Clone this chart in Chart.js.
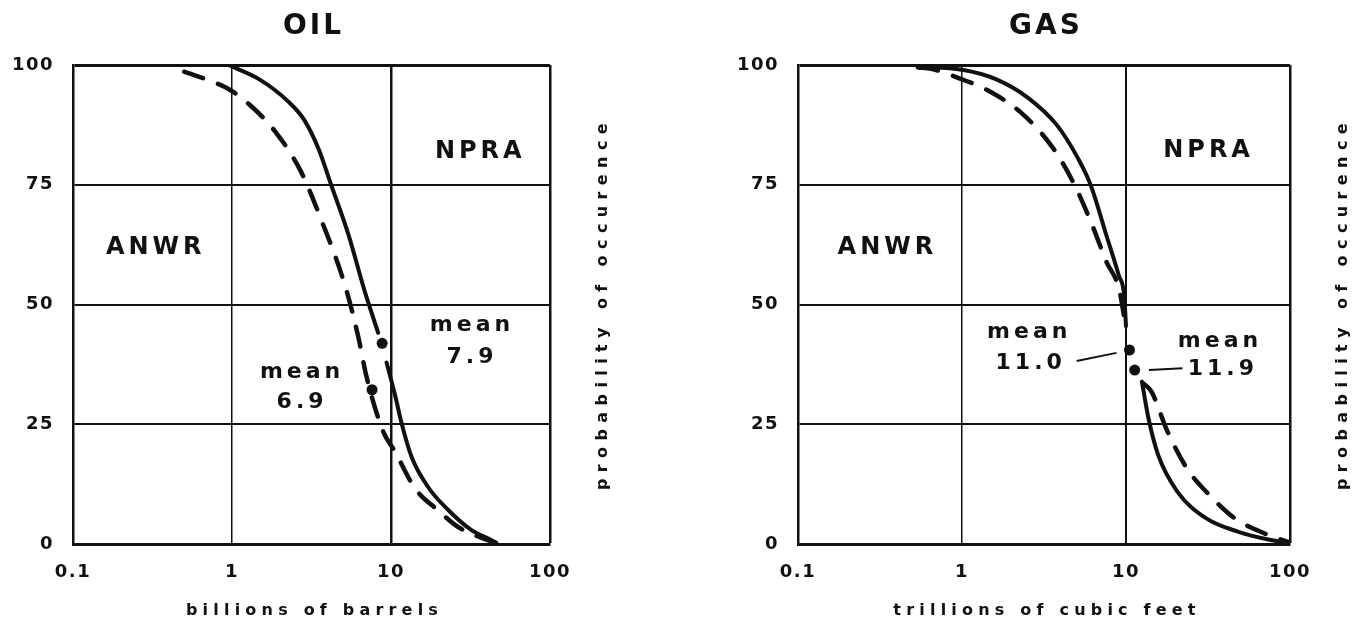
<!DOCTYPE html>
<html>
<head>
<meta charset="utf-8">
<title>OIL / GAS</title>
<script src="https://cdn.jsdelivr.net/npm/chart.js@4"></script>
<style>
  body { margin: 0; background: #fff; }
  #wrap { position: relative; width: 1353px; height: 623px; }
  canvas { position: absolute; top: 0; }
  #oil { left: 0; }
  #gas { left: 680px; }
</style>
</head>
<body>
<div id="wrap">
  <canvas id="oil" width="680" height="623"></canvas>
  <canvas id="gas" width="673" height="623"></canvas>
</div>
<script>
// tick labels
var xTicks = [0.1, 1, 10, 100];
var yTicks = [0, 25, 50, 75, 100];

// OIL (billions of barrels) - null marks the break in the line at the mean dot
var oilSolidX = [0.95, 1.47, 2.27, 2.85, 3.5, 4.2, 5.4, 6.8, 8.3, 8.8, 9.38, 10.6, 11.7, 13.5, 17.1, 22.9, 32.1, 42.9, 46];
var oilSolidY = [100, 97.1, 92.3, 88.5, 82.5, 75, 64.6, 53, 44.1, null, 37.9, 31.1, 25, 18.1, 11.9, 7.1, 2.9, 0.8, 0.2];
var oilDashedX = [0.5, 0.77, 0.95, 1.27, 1.87, 2.69, 3.67, 5.2, 6.24, 7.03, 8.95, 10.6, 14.1, 19.8, 26.3, 40.5, 46];
var oilDashedY = [98.6, 96.4, 95, 91.9, 86.1, 78, 67.4, 53.4, 43.1, 34.8, 23.4, 19.3, 11.7, 7, 3.6, 0.8, 0.2];
var oilMeanX = [8.8, 7.6];
var oilMeanY = [41.9, 32.2];

// GAS (trillions of cubic feet)
var gasSolidX = [0.535, 1, 1.62, 2.54, 3.78, 5.1, 6.08, 7.6, 9.05, 9.75, 10, 11, 12.5, 13.7, 15.7, 20.5, 30.7, 48, 75, 100];
var gasSolidY = [99.6, 99, 97, 93.1, 87.5, 80.5, 75, 64.4, 56, 51.8, 45.5, null, 33.9, 26.3, 18.6, 11, 5.4, 2.6, 0.9, 0.2];
var gasDashedX = [0.54, 0.65, 1, 1.4, 2.3, 3.6, 4.85, 6.22, 7.6, 9.06, 9.9, 11, 12.8, 14.3, 17.9, 23.5, 32.1, 45.9, 68.9, 100];
var gasDashedY = [99.5, 99.2, 97, 94.9, 90, 82.6, 75, 66.6, 58.9, 53.3, 46, null, 33.5, 31.8, 23.5, 15.8, 10.3, 5.4, 2.3, 0.3];
var gasMeanX = [10.5, 11.3];
var gasMeanY = [40.5, 36.3];
var gasLeaderX = [[5.0, 8.75], [13.8, 22.1]];
var gasLeaderY = [[38.2, 39.9], [36.3, 36.7]];

var INK = '#111';
var FACE = '"DejaVu Sans", "Liberation Sans", sans-serif';
Chart.defaults.font.family = FACE;

function pts(xs, ys) {
  return xs.map(function(x, i) { return { x: x, y: ys[i] }; });
}

// titles, axis names and in-plot notes are drawn here (letter spaced like the original)
var paperText = {
  id: 'paperText',
  beforeDraw: function(chart) {
    chart.ctx.letterSpacing = '1.5px';
  },
  afterDraw: function(chart) {
    var o = chart.options.plugins.paperText;
    var ctx = chart.ctx, area = chart.chartArea;
    var xs = chart.scales.x, ys = chart.scales.y;
    var cx = (area.left + area.right) / 2;

    ctx.save();
    ctx.fillStyle = INK;
    ctx.textAlign = 'center';
    ctx.textBaseline = 'middle';

    ctx.font = 'bold 28px ' + FACE;
    ctx.letterSpacing = '3px';
    ctx.fillText(o.title, cx + 2, 27);

    ctx.font = 'bold 16px ' + FACE;
    ctx.letterSpacing = '5.2px';
    ctx.fillText(o.xTitle, cx + 3, 611);

    o.notes.forEach(function(n) {
      ctx.font = 'bold ' + n.size + 'px ' + FACE;
      ctx.letterSpacing = n.spacing + 'px';
      ctx.fillText(n.text, xs.getPixelForValue(n.x) + n.spacing / 2, ys.getPixelForValue(n.y));
    });

    ctx.font = 'bold 16px ' + FACE;
    ctx.letterSpacing = '6.4px';
    ctx.translate(area.right + 53, (area.top + area.bottom) / 2 + 2);
    ctx.rotate(-Math.PI / 2);
    ctx.fillText(o.yTitle, 3, 0);
    ctx.restore();
  }
};

function drawPanel(id, p) {
  var datasets = [
    {
      data: pts(p.solidX, p.solidY),
      borderColor: INK, borderWidth: 4, borderCapStyle: 'round',
      pointRadius: 0, cubicInterpolationMode: 'monotone', spanGaps: false
    },
    {
      data: pts(p.dashedX, p.dashedY),
      borderColor: INK, borderWidth: 4.5, borderCapStyle: 'round', borderDash: [20, 16],
      pointRadius: 0, cubicInterpolationMode: 'monotone', spanGaps: false
    },
    {
      type: 'scatter',
      data: pts(p.meanX, p.meanY),
      pointRadius: 5.5, pointBackgroundColor: INK, pointBorderWidth: 0
    }
  ];
  (p.leaderX || []).forEach(function(lx, i) {
    datasets.push({
      data: pts(lx, p.leaderY[i]),
      borderColor: INK, borderWidth: 2, pointRadius: 0
    });
  });

  new Chart(document.getElementById(id), {
    type: 'line',
    data: { datasets: datasets },
    options: {
      responsive: false,
      animation: false,
      events: [],
      layout: { padding: { top: 65, left: 0, right: p.padRight, bottom: 0 } },
      plugins: {
        legend: { display: false },
        tooltip: { enabled: false },
        paperText: { title: p.title, xTitle: p.xTitle, yTitle: 'probability of occurence', notes: p.notes }
      },
      scales: {
        x: {
          type: 'logarithmic',
          min: 0.1,
          max: 100,
          afterBuildTicks: function(s) { s.ticks = xTicks.map(function(v) { return { value: v }; }); },
          afterFit: function(s) { s.height = 79; },
          ticks: {
            autoSkip: false, maxRotation: 0, padding: 18, color: INK,
            font: { size: 18, weight: 'bold' },
            callback: function(v) { return String(v); }
          },
          grid: {
            color: INK, drawTicks: false,
            lineWidth: function(c) { return c.tick ? (p.xGridWidth[c.tick.value] || 1.5) : 1.5; }
          },
          border: { display: true, color: INK, width: 3 }
        },
        y: {
          min: 0,
          max: 100,
          afterBuildTicks: function(s) { s.ticks = yTicks.map(function(v) { return { value: v }; }); },
          afterFit: function(s) { s.width = p.yWidth; },
          ticks: { padding: 19, color: INK, font: { size: 18, weight: 'bold' } },
          grid: {
            color: INK, drawTicks: false,
            lineWidth: function(c) { return c.tick && c.tick.value === 100 ? 3 : 2; }
          },
          border: { display: true, color: INK, width: 2.5 }
        }
      }
    },
    plugins: [paperText]
  });
}

drawPanel('oil', {
  title: 'OIL',
  xTitle: 'billions of barrels',
  solidX: oilSolidX, solidY: oilSolidY,
  dashedX: oilDashedX, dashedY: oilDashedY,
  meanX: oilMeanX, meanY: oilMeanY,
  yWidth: 73, padRight: 130,
  xGridWidth: { 1: 1.5, 10: 2.5, 100: 2.5 },
  notes: [
    { text: 'ANWR', x: 0.322, y: 61.8, size: 24, spacing: 4 },
    { text: 'NPRA', x: 35.4, y: 81.9, size: 24, spacing: 4 },
    { text: 'mean', x: 31.4, y: 45.7, size: 22, spacing: 4 },
    { text: '7.9', x: 31.4, y: 39.0, size: 22, spacing: 4 },
    { text: 'mean', x: 2.68, y: 35.9, size: 22, spacing: 4 },
    { text: '6.9', x: 2.68, y: 29.6, size: 22, spacing: 4 }
  ]
});

drawPanel('gas', {
  title: 'GAS',
  xTitle: 'trillions of cubic feet',
  solidX: gasSolidX, solidY: gasSolidY,
  dashedX: gasDashedX, dashedY: gasDashedY,
  meanX: gasMeanX, meanY: gasMeanY,
  leaderX: gasLeaderX, leaderY: gasLeaderY,
  yWidth: 118, padRight: 63,
  xGridWidth: { 1: 1.5, 10: 2, 100: 2.5 },
  notes: [
    { text: 'ANWR', x: 0.341, y: 61.9, size: 24, spacing: 4 },
    { text: 'NPRA', x: 31, y: 82, size: 24, spacing: 4 },
    { text: 'mean', x: 2.5, y: 44.3, size: 22, spacing: 4 },
    { text: '11.0', x: 2.55, y: 37.7, size: 22, spacing: 4 },
    { text: 'mean', x: 36.4, y: 42.4, size: 22, spacing: 4 },
    { text: '11.9', x: 37.9, y: 36.5, size: 22, spacing: 4 }
  ]
});
</script>
</body>
</html>
